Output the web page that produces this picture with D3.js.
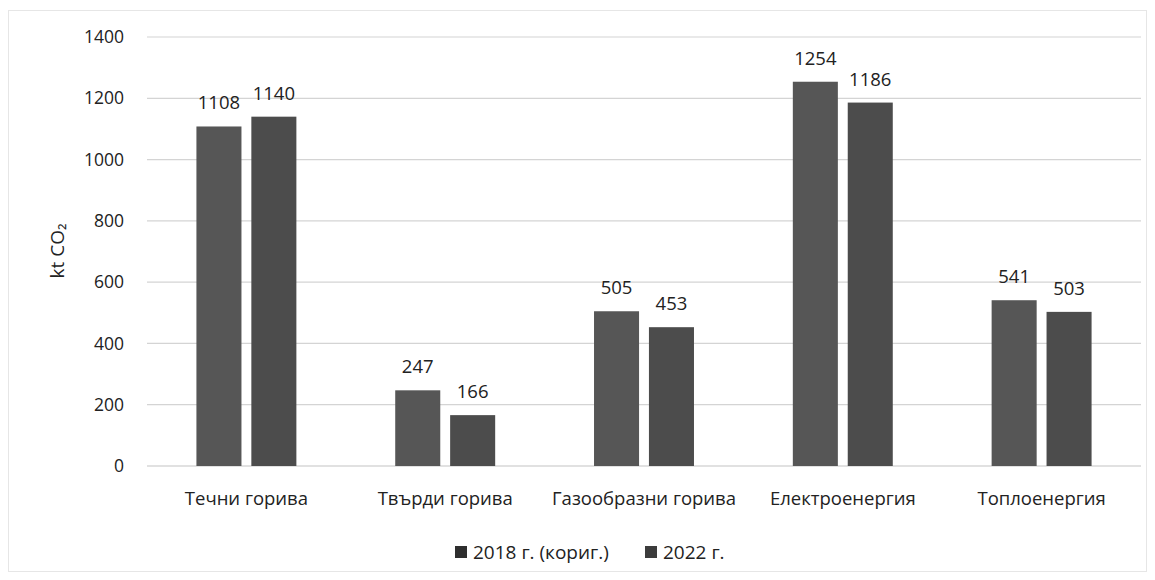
<!DOCTYPE html>
<html><head><meta charset="utf-8">
<script src="https://cdn.jsdelivr.net/npm/d3@7"></script>
<style>
body{margin:0;background:#fff;}
text{font-family:"Open Sans","Noto Sans",sans-serif;fill:#222;}
</style></head>
<body><svg id="c" width="1155" height="580"></svg>
<script>
const categories = ["Течни горива","Твърди горива","Газообразни горива","Електроенергия","Топлоенергия"];
const seriesNames = ["2018 г. (кориг.)","2022 г."];
const values2018 = [1108, 247, 505, 1254, 541];
const values2022 = [1140, 166, 453, 1186, 503];
const yTicks = [0,200,400,600,800,1000,1200,1400];
const colors = ["#565656","#4c4c4c"];
const legendColors = ["#2e2e2e","#3c3c3c"];

const svg = d3.select("#c");
svg.append("rect").attr("x",8.5).attr("y",10.5).attr("width",1138).attr("height",561)
  .attr("fill","none").attr("stroke","#e6e6e6");

const m = {l:147, r:1141, t:37, b:466};
const x = d3.scaleBand().domain(categories).range([m.l,m.r]);
const xs = d3.scaleBand().domain([0,1]).range([0,x.bandwidth()]).paddingInner(0.18).paddingOuter(0.9);
const y = d3.scaleLinear().domain([0,1400]).range([m.b,m.t]);

svg.append("g").selectAll("line").data(yTicks).join("line")
  .attr("x1",m.l).attr("x2",m.r).attr("y1",d=>y(d)).attr("y2",d=>y(d))
  .attr("stroke",d=>d===0?"#c4c4c4":"#d4d4d4").attr("stroke-width",1.2);

const yAxis = d3.axisLeft(y).tickValues(yTicks).tickFormat(d3.format("d")).tickSize(0).tickPadding(0);
const ya = svg.append("g").attr("transform",`translate(124,0)`).call(yAxis);
ya.select(".domain").remove();
ya.selectAll("text").style("font-size","17.5px").attr("fill","#333");

svg.append("text").attr("transform","translate(64,251) rotate(-90)")
  .attr("text-anchor","middle").style("font-size","19px").attr("fill","#333")
  .text("kt CO₂");

const data = categories.map((c,i)=>({c, v:[values2018[i], values2022[i]]}));
const g = svg.append("g");
data.forEach(d=>{
  d.v.forEach((v,j)=>{
    const bx = x(d.c)+xs(j);
    g.append("rect").attr("x",bx).attr("y",y(v)).attr("width",xs.bandwidth())
      .attr("height",y(0)-y(v)).attr("fill",colors[j]);
    g.append("text").attr("x",bx+xs.bandwidth()/2).attr("y",y(v)-17)
      .attr("text-anchor","middle").style("font-size","18.5px").attr("fill","#111").text(v);
  });
});

const xAxis = d3.axisBottom(x).tickSize(0).tickPadding(0);
const xa = svg.append("g").attr("transform",`translate(0,${m.b+39})`).call(xAxis);
xa.select(".domain").remove();
xa.selectAll("text").style("font-size","18.5px").attr("fill","#222").attr("dy","0");

const leg = svg.append("g").attr("transform","translate(455,559)");
const lx = [0, 190];
seriesNames.forEach((n,i)=>{
  leg.append("rect").attr("x",lx[i]).attr("y",-13).attr("width",12).attr("height",12).attr("fill",legendColors[i]);
  leg.append("text").attr("x",lx[i]+18).attr("y",0).style("font-size","19px").attr("fill","#222").text(n);
});
</script></body></html>
